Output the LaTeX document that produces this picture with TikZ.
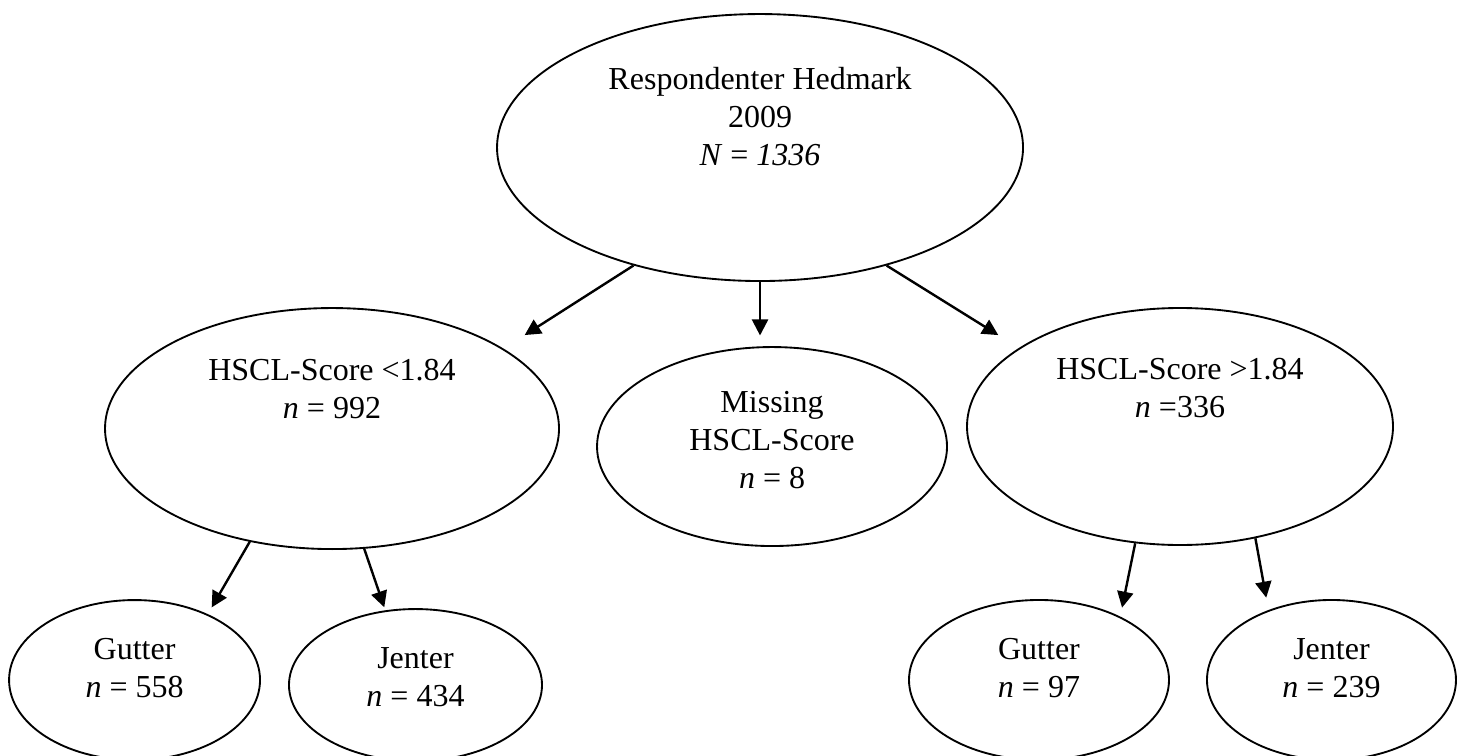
\documentclass[tikz,border=0pt]{standalone}
\usepackage{fontspec}
\setmainfont{Liberation Serif}
\usepackage{tikz}
\usetikzlibrary{positioning,arrows.meta,shapes.geometric}

\begin{document}
\begin{tikzpicture}[->, >={Triangle[length=6pt,width=6pt]}, on grid, main/.style = {ellipse, draw, line width=0.7pt, inner sep=0pt}, txt/.style = {align=center, inner sep=0pt, font=\fontsize{12}{14.25}\selectfont}, every path/.append style={line width=0.9pt}]

\useasboundingbox (0,0) rectangle (19.331,-9.949);

\node[main, minimum width=6.931cm, minimum height=3.518cm] (root) at (10.015,-1.944) {};
\node[main, minimum width=5.982cm, minimum height=3.176cm] (low) [below left = 3.703cm and 5.640cm of root] {};
\node[main, minimum width=4.612cm, minimum height=2.622cm] (miss) [below right = 3.940cm and 0.158cm of root] {};
\node[main, minimum width=5.613cm, minimum height=3.123cm] (high) [below right = 3.676cm and 5.534cm of root] {};
\node[main, minimum width=3.307cm, minimum height=2.108cm] (boysL) [below left = 3.314cm and 2.602cm of low] {};
\node[main, minimum width=3.334cm, minimum height=2.003cm] (girlsL) [below right = 3.380cm and 1.100cm of low] {};
\node[main, minimum width=3.426cm, minimum height=2.108cm] (boysH) [below left = 3.340cm and 1.858cm of high] {};
\node[main, minimum width=3.281cm, minimum height=2.108cm] (girlsH) [below right = 3.340cm and 1.996cm of high] {};

\node[txt] (rootT) at ([yshift=0.402cm]root.center) {Respondenter Hedmark\\2009\\\textit{N} = \textit{1336}};
\node[txt] (lowT) at ([yshift=0.527cm]low.center) {HSCL-Score <1.84\\\textit{n} = 992};
\node[txt] (missT) at ([yshift=0.086cm]miss.center) {Missing\\HSCL-Score\\\textit{n} = 8};
\node[txt] (highT) at ([yshift=0.501cm]high.center) {HSCL-Score >1.84\\\textit{n} =336};
\node[txt] (boysLT) at ([yshift=0.152cm]boysL.center) {Gutter\\\textit{n} = 558};
\node[txt] (girlsLT) at ([yshift=0.098cm]girlsL.center) {Jenter\\\textit{n} = 434};
\node[txt] (boysHT) at ([yshift=0.152cm]boysH.center) {Gutter\\\textit{n} = 97};
\node[txt] (girlsHT) at ([yshift=0.152cm]girlsH.center) {Jenter\\\textit{n} = 239};

\draw[shorten >=9.4pt] (root.223) -- (low.25);
\draw[shorten >=4pt] (root.south) -- (root.south |- miss.north);
\draw[shorten >=9.1pt] (root.317) -- (high.154);
\draw[shorten >=2.9pt] (low.234) -- (boysL.42);
\draw[shorten >=1.2pt] (low.285) -- (girlsL.112);
\draw[shorten >=3.4pt] (high.249) -- (boysH.38);
\draw[shorten >=4.7pt] (high.304) -- (girlsH.132);
\end{tikzpicture}
\end{document}
